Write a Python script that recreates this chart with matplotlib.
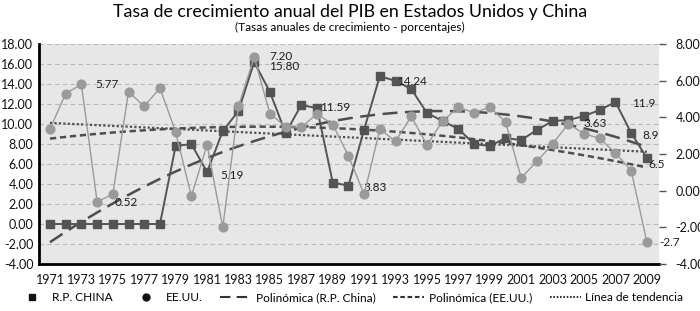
import numpy as np
import matplotlib
matplotlib.use("Agg")
import matplotlib.pyplot as plt
from matplotlib.lines import Line2D

plt.rcParams["font.family"] = ["Lato", "DejaVu Sans"]

years = list(range(1971, 2010))
china = [0, 0, 0, 0, 0, 0, 0, 0,
         7.8, 8.0, 5.19, 9.3, 11.3, 16.2, 13.2, 9.1, 11.9, 11.59, 4.15, 3.83,
         9.45, 14.8, 14.3, 13.5, 11.1, 10.3, 9.5, 8.0, 7.8, 8.6,
         8.4, 9.4, 10.3, 10.4, 10.8, 11.4, 12.2, 9.1, 6.6]
usa = [3.36, 5.3, 5.8, -0.6, -0.2, 5.4, 4.6, 5.6, 3.2, -0.3,
       2.5, -2.0, 4.6, 7.3, 4.2, 3.5, 3.45, 4.2, 3.6, 1.9,
       -0.2, 3.35, 2.7, 4.05, 2.5, 3.8, 4.55, 4.25, 4.55, 3.75,
       0.7, 1.6, 2.55, 3.65, 3.1, 2.85, 2.05, 1.1, -2.8]
year_ticks = list(range(1971, 2010, 2))

# data labels: (series, year, text, dx px, dy px)
labels = [
    ("us", 1973, "5.77", 14, 0),
    ("us", 1975, "0.52", 2, -8),
    ("cn", 1981, "5.19", 13, -3),
    ("us", 1984, "7.20", 15, 0),
    ("cn", 1984, "15.80", 15, -4),
    ("cn", 1988, "11.59", 3, 1),
    ("cn", 1990, "3.83", 15, -2),
    ("cn", 1993, "14.24", 2, 0),
    ("us", 2005, "3.63", -1, 10),
    ("cn", 2007, "11.9", 17, -1),
    ("cn", 2008, "8.9", 11, -2),
    ("cn", 2009, "6.5", 1, -6),
    ("us", 2009, "-2.7", 12, 0),
]

CN_COLOR = "#545454"
US_COLOR = "#9a9a9a"
TREND_COLOR = "#4e4e4e"

fig = plt.figure(figsize=(7.0, 3.11), dpi=100)
ax = fig.add_axes([0.0557, 0.1511, 0.8857, 0.7074])
ax2 = ax.twinx()

ax.set_facecolor("#e7e7e8")
ax.set_xlim(1970.3, 2009.77)
ax.set_ylim(-4, 18)
ax2.set_ylim(-4, 8)

ax.set_yticks(np.arange(-4, 19, 2))
ax.set_yticklabels([f"{v:.2f}" for v in np.arange(-4, 19, 2)])
ax2.set_yticks(np.arange(-4, 9, 2))
ax2.set_yticklabels([f"{v:.2f}" for v in np.arange(-4, 9, 2)])
ax.set_xticks(year_ticks)
ax.set_xticklabels([str(y) for y in year_ticks])

ax.grid(axis="y", color="#b9b9b9", linestyle=(0, (4, 3)), linewidth=0.8)
ax.set_axisbelow(True)

ax.tick_params(axis="y", length=0, pad=4, labelsize=9, labelcolor="#111111")
ax.tick_params(axis="x", length=0, pad=7, labelsize=9, labelcolor="#111111")
ax2.tick_params(axis="y", length=5, width=1, color="#555555", pad=7,
                labelsize=9, labelcolor="#111111", direction="out")

for a in (ax, ax2):
    for side in ("top", "right", "left", "bottom"):
        a.spines[side].set_visible(False)
ax.spines["left"].set_visible(True)
ax.spines["bottom"].set_visible(True)
ax.spines["left"].set_linewidth(2)
ax.spines["bottom"].set_linewidth(2)

# trend lines
xs = np.linspace(years[0], years[-1], 200)
cn_poly = np.polyval(np.polyfit(years, china, 2), xs)
us_poly = np.polyval(np.polyfit(years, usa, 2), xs)
us_lin = np.polyval(np.polyfit(years, usa, 1), xs)

ax.plot(xs, cn_poly, color=TREND_COLOR, lw=1.8, linestyle=(0, (6, 3)), zorder=2)
ax2.plot(xs, us_poly, color=TREND_COLOR, lw=1.8, linestyle=(0, (2.5, 1.5)), zorder=2)
ax2.plot(xs, us_lin, color=TREND_COLOR, lw=1.6, linestyle=(0, (1, 1)), zorder=2)

ax.plot(years, china, color=CN_COLOR, lw=1.4, marker="s", markersize=6.3,
        markerfacecolor=CN_COLOR, markeredgecolor=CN_COLOR, zorder=4)
ax2.plot(years, usa, color=US_COLOR, lw=1.0, marker="o", markersize=6.3,
         markerfacecolor=US_COLOR, markeredgecolor=US_COLOR, zorder=3)

for series, yr, txt, dx, dy in labels:
    if series == "cn":
        target, val = ax, china[years.index(yr)]
    else:
        target, val = ax2, usa[years.index(yr)]
    target.annotate(txt, xy=(yr, val), xytext=(dx, dy), textcoords="offset pixels",
                    ha="left", va="center", fontsize=8.5, color="#1e1e1e",
                    annotation_clip=False, zorder=6)

fig.text(0.5, 0.96, "Tasa de crecimiento anual del PIB en Estados Unidos y China",
         ha="center", va="center", fontsize=12.8)
fig.text(0.5, 0.912, "(Tasas anuales de crecimiento - porcentajes)",
         ha="center", va="center", fontsize=8.6)

handles = [
    Line2D([], [], color="#111111", marker="s", linestyle="none", markersize=5),
    Line2D([], [], color="#111111", marker="o", linestyle="none", markersize=5),
    Line2D([], [], color="#333333", lw=1.5, linestyle=(0, (5, 3))),
    Line2D([], [], color="#333333", lw=1.5, linestyle=(0, (2.2, 1.3))),
    Line2D([], [], color="#333333", lw=1.5, linestyle=(0, (0.8, 0.8))),
]
names = ["R.P. CHINA", "EE.UU.", "Polinómica (R.P. China)",
         "Polinómica (EE.UU.)", "Línea de tendencia"]
fig.legend(handles, names, loc="center", bbox_to_anchor=(0.5, 0.042), ncol=5,
           frameon=False, fontsize=8.6, handlelength=2.6, handletextpad=0.4,
           columnspacing=1.45)

fig.savefig("out.png", dpi=100)
